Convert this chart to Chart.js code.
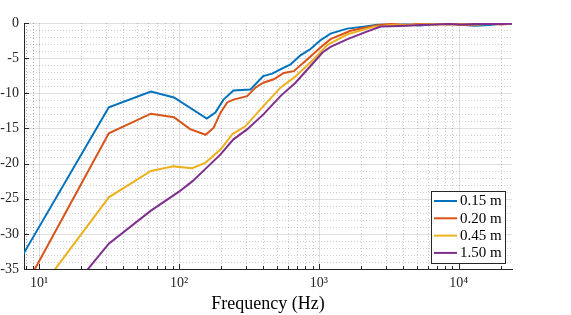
<!DOCTYPE html>
<html><head><meta charset="utf-8">
<script src="https://cdn.jsdelivr.net/npm/chart.js@4"></script>
<style>html,body{margin:0;padding:0;background:#fff}#wrap{width:571px;height:315px}</style>
</head><body><div id="wrap"><canvas id="c" width="571" height="315"></canvas></div>
<script>
// ---- data ----
const seriesLabels = ['0.15 m', '0.20 m', '0.45 m', '1.50 m'];
const seriesColors = ['#0072BD', '#D95319', '#EDB120', '#7E2F8E'];

const freq015 = [5, 31.5, 63, 92, 158, 182, 208, 245, 324, 400, 463, 531, 627, 738, 871, 1026, 1211, 1593, 2218, 2618, 3300, 4200, 5300, 6700, 8500, 10500, 13000, 16500, 20000, 24000];
const db015   = [-39.3, -12.0, -9.75, -10.6, -13.6, -12.75, -10.9, -9.6, -9.45, -7.55, -7.2, -6.6, -5.9, -4.6, -3.7, -2.45, -1.5, -0.8, -0.45, -0.25, -0.3, -0.2, -0.35, -0.15, -0.1, -0.25, -0.4, -0.3, -0.1, -0.1];

const freq020 = [5, 31.5, 63, 92, 120, 155, 177, 198, 221, 245, 307, 352, 400, 476, 561, 661, 824, 1026, 1211, 1683, 2218, 2761, 3300, 4200, 5300, 6700, 8500, 10500, 13000, 16500, 20000, 24000];
const db020   = [-44.9, -15.7, -12.9, -13.4, -15.1, -15.9, -14.9, -12.75, -11.3, -10.9, -10.4, -9.2, -8.5, -8.0, -7.1, -6.85, -5.2, -3.5, -2.3, -1.1, -0.6, -0.25, -0.15, -0.3, -0.1, -0.2, -0.1, -0.3, -0.2, -0.1, -0.2, -0.1];

const freq045 = [5, 31.5, 63, 91, 124, 154, 198, 241, 298, 382, 531, 680, 914, 1153, 1603, 2455, 3300, 4200, 5300, 6700, 8500, 10500, 13000, 16500, 20000, 24000];
const db045   = [-46.1, -24.8, -21.05, -20.4, -20.65, -19.9, -18.0, -15.8, -14.7, -12.3, -9.2, -7.6, -5.2, -3.1, -1.6, -0.55, -0.3, -0.35, -0.2, -0.15, -0.25, -0.1, -0.2, -0.15, -0.1, -0.1];

const freq150 = [5, 31.5, 63, 100, 125, 150, 198, 245, 308, 401, 531, 680, 914, 1061, 1211, 1603, 2084, 2761, 3300, 4200, 5300, 6700, 8500, 10500, 13000, 16500, 20000, 24000];
const db150   = [-50.8, -31.4, -26.7, -24.0, -22.5, -21.0, -18.7, -16.55, -15.1, -13.0, -10.4, -8.5, -5.65, -4.2, -3.4, -2.3, -1.4, -0.5, -0.45, -0.4, -0.3, -0.2, -0.15, -0.2, -0.15, -0.1, -0.15, -0.1];

const xTickValues = [10, 100, 1000, 10000];
const xTickLabels = ['10\u00B9', '10\u00B2', '10\u00B3', '10\u2074'];
const yTickValues = [0, -5, -10, -15, -20, -25, -30, -35];
const xMin = 7.8, xMax = 24000, yMin = -35, yMax = 0;

// ---- build ----
const freqs = [freq015, freq020, freq045, freq150];
const dbs = [db015, db020, db045, db150];
const datasets = seriesLabels.map((lab, i) => ({
  label: lab,
  data: freqs[i].map((f, k) => ({x: f, y: dbs[i][k]})),
  borderColor: seriesColors[i],
  backgroundColor: seriesColors[i],
  borderWidth: 2,
  pointRadius: 0,
  tension: 0,
  fill: false,
  order: seriesLabels.length - i
}));

const FONT = '"Liberation Serif", "Times New Roman", serif';
const AX = '#262626';

const gridPlugin = {
  id: 'matlabGrid',
  beforeDatasetsDraw(chart) {
    const {ctx, chartArea: a, scales: {x, y}} = chart;
    ctx.save();
    // minor x grid
    ctx.lineWidth = 0.7;
    ctx.strokeStyle = 'rgba(60,60,60,0.35)';
    ctx.setLineDash([1, 2]);
    const minorX = [];
    for (let d = 1; d <= 10000; d *= 10) {
      for (let m = 1; m <= 9; m++) {
        const v = m * d;
        if (m !== 1 && v >= xMin && v <= xMax) minorX.push(v);
      }
    }
    [8, 9].forEach(v => { if (v >= xMin) minorX.push(v); });
    minorX.forEach(v => {
      const px = Math.round(x.getPixelForValue(v)) + 0.5;
      ctx.beginPath(); ctx.moveTo(px, a.top); ctx.lineTo(px, a.bottom); ctx.stroke();
    });
    // minor y grid
    for (let v = yMin; v <= yMax; v += 1) {
      if (v % 5 === 0) continue;
      const py = Math.round(y.getPixelForValue(v)) + 0.5;
      ctx.beginPath(); ctx.moveTo(a.left, py); ctx.lineTo(a.right, py); ctx.stroke();
    }
    // major grid
    ctx.setLineDash([]);
    ctx.strokeStyle = 'rgba(38,38,38,0.15)';
    ctx.lineWidth = 1;
    xTickValues.forEach(v => {
      const px = Math.round(x.getPixelForValue(v)) + 0.5;
      ctx.beginPath(); ctx.moveTo(px, a.top); ctx.lineTo(px, a.bottom); ctx.stroke();
    });
    yTickValues.forEach(v => {
      if (v === yMin) return;
      const py = Math.round(y.getPixelForValue(v)) + 0.5;
      ctx.beginPath(); ctx.moveTo(a.left, py); ctx.lineTo(a.right, py); ctx.stroke();
    });
    ctx.restore();
  },
  afterDatasetsDraw(chart) {
    const {ctx, chartArea: a, scales: {x, y}} = chart;
    ctx.save();
    ctx.strokeStyle = AX;
    ctx.lineWidth = 1;
    // inward ticks
    const minorX = [];
    for (let d = 1; d <= 10000; d *= 10) {
      for (let m = 2; m <= 9; m++) {
        const v = m * d;
        if (v >= xMin && v <= xMax) minorX.push(v);
      }
    }
    minorX.forEach(v => {
      const px = Math.round(x.getPixelForValue(v)) + 0.5;
      ctx.beginPath(); ctx.moveTo(px, a.bottom); ctx.lineTo(px, a.bottom - 3); ctx.stroke();
    });
    xTickValues.forEach(v => {
      const px = Math.round(x.getPixelForValue(v)) + 0.5;
      ctx.beginPath(); ctx.moveTo(px, a.bottom); ctx.lineTo(px, a.bottom - 5); ctx.stroke();
    });
    yTickValues.forEach(v => {
      const py = Math.round(y.getPixelForValue(v)) + 0.5;
      ctx.beginPath(); ctx.moveTo(a.left, py); ctx.lineTo(a.left + 5, py); ctx.stroke();
    });
    ctx.restore();
  },
  afterDraw(chart) {
    const {ctx} = chart;
    const bx = 431.5, by = 191.5, bw = 74, bh = 72;
    ctx.save();
    ctx.fillStyle = '#fff';
    ctx.fillRect(bx, by, bw, bh);
    ctx.strokeStyle = AX;
    ctx.lineWidth = 1;
    ctx.strokeRect(bx, by, bw, bh);
    ctx.font = '15px ' + FONT;
    ctx.textBaseline = 'middle';
    ctx.textAlign = 'left';
    seriesLabels.forEach((lab, i) => {
      const ry = 201 + i * 17.3;
      ctx.strokeStyle = seriesColors[i];
      ctx.lineWidth = 2;
      ctx.beginPath(); ctx.moveTo(434, ry); ctx.lineTo(457, ry); ctx.stroke();
      ctx.fillStyle = '#000';
      ctx.fillText(lab, 460, ry + 0.5);
    });
    ctx.restore();
  }
};

new Chart(document.getElementById('c'), {
  type: 'line',
  data: {datasets},
  plugins: [gridPlugin],
  options: {
    responsive: false,
    animation: false,
    devicePixelRatio: 1,
    layout: {padding: {left: 0, right: 59, top: 23, bottom: 0}},
    plugins: {legend: {display: false}, tooltip: {enabled: false}},
    scales: {
      x: {
        type: 'logarithmic',
        min: xMin, max: xMax,
        afterBuildTicks(s) { s.ticks = xTickValues.map(v => ({value: v, major: true})); },
        afterFit(s) { s.height = 46; },
        grid: {display: false, drawTicks: false},
        border: {display: true, color: AX, width: 1},
        ticks: {
          autoSkip: false, maxRotation: 0, padding: 6, color: AX,
          font: {family: FONT, size: 14},
          callback(v) { const i = xTickValues.indexOf(v); return i >= 0 ? xTickLabels[i] : ''; }
        },
        title: {display: true, text: 'Frequency (Hz)', color: '#000', font: {family: FONT, size: 18}, padding: {top: 0, bottom: 0}}
      },
      y: {
        type: 'linear',
        min: yMin, max: yMax,
        afterBuildTicks(s) { s.ticks = yTickValues.map(v => ({value: v})); },
        afterFit(s) { s.width = 24; },
        grid: {display: false, drawTicks: false},
        border: {display: true, color: AX, width: 1},
        ticks: {padding: 5, color: AX, font: {family: FONT, size: 14}, callback(v) { return String(v); }}
      }
    }
  }
});
</script>
</body></html>
